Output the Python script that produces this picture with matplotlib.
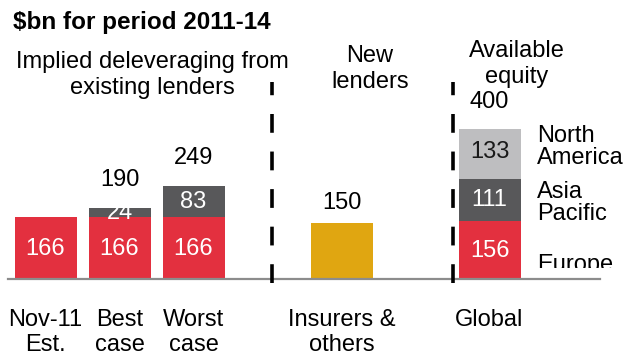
import matplotlib
matplotlib.use("Agg")
import matplotlib.pyplot as plt
from matplotlib.transforms import Bbox, TransformedBbox

# $bn for period 2011-14
cats = ["Nov-11\nEst.", "Best\ncase", "Worst\ncase", "Insurers &\nothers", "Global"]
xpos = [0, 1, 2, 4, 6]
europe = [166, 166, 166, 0, 156]          # red base segment (existing lenders / Europe)
asia = [0, 24, 83, 0, 111]                # dark grey segment
north_am = [0, 0, 0, 0, 133]              # light grey segment
insurers = [0, 0, 0, 150, 0]              # new lenders
totals = [None, 190, 249, 150, 400]

RED = "#E3303F"
DARK = "#58585A"
LIGHT = "#BEBEC0"
GOLD = "#E0A611"
FONT = "Liberation Sans"

W, H = 632, 356
fig = plt.figure(figsize=(W / 100, H / 100), dpi=100)
ax = fig.add_axes([0, 0, 1, 1])
ax.axis("off")

# pixel layout: x=0 at 45.5px, 74px per slot; baseline at 279px, 0.375px per $bn
X0, XS, Y0, YS = 45.5, 74.0, 279.0, 0.375
ax.set_xlim(-X0 / XS, (W - X0) / XS)
ax.set_ylim(-(H - Y0) / YS, Y0 / YS)


def px(x, y):
    return (x - X0) / XS, (Y0 - y) / YS


bw = 62 / XS
ax.bar(xpos, europe, width=bw, color=RED, zorder=2)
ax.bar(xpos, asia, width=bw, bottom=europe, color=DARK, zorder=2)
ax.bar(xpos, north_am, width=bw, bottom=[a + b for a, b in zip(europe, asia)],
       color=LIGHT, zorder=2)
ax.bar(xpos, insurers, width=bw, color=GOLD, zorder=2)

# baseline
ax.plot([px(8, 0)[0], px(600, 0)[0]], [0, 0], color="#8C8C8C", lw=1.6, zorder=3)

# dashed separators, drawn bottom-up
for xs in [3.06, 5.5]:
    ax.plot([xs, xs], [px(0, 283)[1], px(0, 82)[1]], color="black", lw=2.6,
            dashes=(5.2, 5.2), solid_capstyle="butt", zorder=4)

fs = 17
# segment labels
for i, x in enumerate(xpos):
    if europe[i]:
        ax.text(x, europe[i] / 2 - 4, str(europe[i]), ha="center", va="center",
                color="white", fontsize=fs, family=FONT, zorder=5)
    if asia[i]:
        ax.text(x, europe[i] + asia[i] / 2 - 1, str(asia[i]), ha="center",
                va="center", color="white", fontsize=fs, family=FONT, zorder=5)
    if north_am[i]:
        ax.text(x, europe[i] + asia[i] + north_am[i] / 2 + 5, str(north_am[i]),
                ha="center", va="center", color="#1a1a1a", fontsize=fs,
                family=FONT, zorder=5)

# totals above bars
offs = [0, 74, 73, 53, 72]
for i, x in enumerate(xpos):
    if totals[i] is not None:
        ax.text(x, totals[i] + offs[i], str(totals[i]), ha="center", va="center",
                fontsize=fs, family=FONT)

# category labels
for x, c in zip(xpos, cats):
    ax.text(x, px(0, 309)[1], c, ha="center", va="top", fontsize=fs,
            family=FONT, linespacing=1.2)

# headings
ax.text(*px(13, 22), "$bn for period 2011-14", ha="left", va="center",
        fontsize=17.5, fontweight="bold", family=FONT)
ax.text(*px(152, 75), "Implied deleveraging from\nexisting lenders", ha="center",
        va="center", fontsize=fs, family=FONT, linespacing=1.22)
ax.text(*px(370, 69), "New\nlenders", ha="center", va="center", fontsize=fs,
        family=FONT, linespacing=1.2)
ax.text(*px(517, 64), "Available\nequity", ha="center", va="center", fontsize=fs,
        family=FONT, linespacing=1.2)

# region labels beside the global bar
ax.text(*px(537, 147), "North\nAmerica", ha="left", va="center", fontsize=fs,
        family=FONT, linespacing=0.95)
ax.text(*px(537, 203), "Asia\nPacific", ha="left", va="center", fontsize=fs,
        family=FONT, linespacing=0.95)
eu = ax.text(*px(537, 265), "Europe", ha="left", va="center", fontsize=fs,
             family=FONT)
lo, hi = px(530, 268), px(632, 230)
eu.set_clip_box(TransformedBbox(Bbox.from_extents(lo[0], lo[1], hi[0], hi[1]),
                                ax.transData))
eu.set_clip_on(True)

fig.savefig("out.png", dpi=100)
